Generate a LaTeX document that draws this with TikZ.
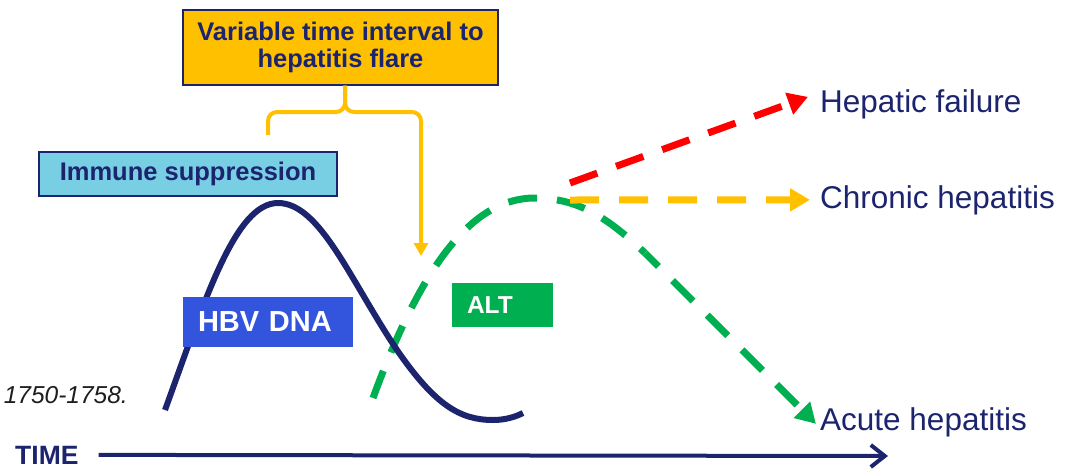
\documentclass[tikz,border=0pt]{standalone}
\usepackage{fontspec}
\setmainfont{Liberation Sans}
\usetikzlibrary{arrows.meta}
\definecolor{navy}{RGB}{28,36,110}
\definecolor{amber}{RGB}{255,192,0}
\definecolor{skyblue}{RGB}{120,206,226}
\definecolor{hbvblue}{RGB}{51,85,221}
\definecolor{altgreen}{RGB}{0,176,80}
\definecolor{alarm}{RGB}{255,0,0}
\definecolor{refgray}{RGB}{30,30,30}
\begin{document}
\begin{tikzpicture}[x=1pt,y=-1pt,
  box/.style={draw=navy, line width=1.2pt, inner sep=0pt, text=navy,
    font=\bfseries\fontsize{25.5}{26.5}\selectfont},
  tag/.style={inner sep=0pt, inner xsep=15pt, text=white, align=left},
  outcome/.style={inner sep=0pt, text=navy, font=\fontsize{31.5}{34}\selectfont},
  course/.style={line width=7pt, dash pattern=on 29pt off 20pt},
  bigtip/.style={-{Triangle[length=20pt,width=22pt]}},
  bracket/.style={draw=amber, line width=4pt, rounded corners=9pt}]
\useasboundingbox (0,0) rectangle (1066,469);

% boxes and labels
\node[box, fill=amber, minimum width=315pt, minimum height=75pt, align=center]
  (interval) at (340.5,47.5) {Variable time interval to\\hepatitis flare};
\node[box, fill=skyblue, minimum width=298pt, minimum height=44pt]
  (immune) at (188,174) {Immune suppression};
\node[outcome, anchor=base west] (hf) at (820,112) {Hepatic failure};
\node[outcome, anchor=base west] (ch) at (820,208) {Chronic hepatitis};
\node[outcome, anchor=base west] (ah) at (820,430) {Acute hepatitis};
\node[anchor=base east, inner sep=0pt, text=refgray,
  font=\itshape\fontsize{24.5}{26}\selectfont] (cite) at (128,403) {1750-1758.};
\node[anchor=base west, inner sep=0pt, text=navy,
  font=\bfseries\fontsize{26.5}{28}\selectfont] (time) at (15,464) {TIME};

% points on the curves
\coordinate (spike) at (345,112);
\coordinate (flare) at (421,256);
\coordinate (altstart) at (373,398);
\coordinate (altpeak) at (535,198);
\coordinate (altbend) at (645,253);
\coordinate (fork1) at (570,183);
\coordinate (fork2) at (570,200);
\coordinate (timeend) at (888,456);

% interval bracket
\draw[bracket] (268,135) |- (spike) -- (interval.south -| spike);
\draw[bracket, -{Triangle[length=13pt,width=14pt]}]
  (interval.south -| spike) -- (spike) -| (flare);

% ALT course and its outcomes
\draw[course, draw=altgreen] (altstart) .. controls (420,270) and (470,198) .. (altpeak)
  .. controls (580,198) and (610,220) .. (altbend);
\draw[course, draw=altgreen, bigtip, dash phase=10pt] (altbend) -- ([xshift=-4pt,yshift=-2pt]ah.west);
\draw[course, draw=alarm, bigtip] (fork1) -- ([xshift=-12pt,yshift=7pt]hf.west);
\draw[course, draw=amber, bigtip] (fork2) -- ([xshift=-10pt,yshift=0pt]ch.west);

% HBV DNA course
\draw[navy, line width=6pt] (165,410) .. controls (205,300) and (235,203) .. (278,203)
  .. controls (320,203) and (350,280) .. (397,350)
  .. controls (435,405) and (460,420) .. (493,420)
  .. controls (505,420) and (515,417) .. (523,413);

\node[tag, fill=hbvblue, minimum height=50pt, text width=140pt,
  font=\bfseries\fontsize{29}{31}\selectfont] (hbv) at (268,322) {HBV DNA};
\node[tag, fill=altgreen, minimum height=44pt, text width=71pt,
  font=\bfseries\fontsize{24.5}{26}\selectfont] (alt) at (502.5,305) {ALT};

% time axis
\draw[navy, line width=4pt, -{Straight Barb[length=14pt,width=22pt]}]
  ([xshift=20pt]time.east) -- (timeend);
\end{tikzpicture}
\end{document}
